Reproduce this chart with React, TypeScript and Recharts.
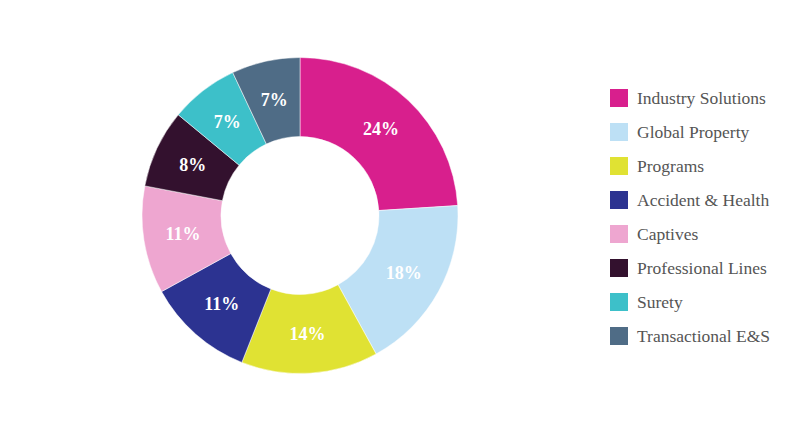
import React from 'react';
import { PieChart, Pie, Cell, Legend } from 'recharts';

const categories = [
  'Industry Solutions',
  'Global Property',
  'Programs',
  'Accident & Health',
  'Captives',
  'Professional Lines',
  'Surety',
  'Transactional E&S',
];
const shares = [24, 18, 14, 11, 11, 8, 7, 7];
const COLORS = ['#d81f8d', '#bde0f5', '#e0e233', '#2c3391', '#eea6d0', '#33112e', '#3dc0c9', '#4f6c86'];

const data = categories.map((name, i) => ({ name, value: shares[i] }));

const FONT = '"Liberation Serif", "Times New Roman", serif';
const RAD = Math.PI / 180;

const renderLabel = (props: any) => {
  const { cx, cy, midAngle, innerRadius, outerRadius, value } = props;
  const r = (innerRadius + outerRadius) / 2;
  const x = cx + r * Math.cos(-midAngle * RAD);
  const y = cy + r * Math.sin(-midAngle * RAD);
  return (
    <text x={x} y={y} fill="#fff" textAnchor="middle" dominantBaseline="central"
      fontFamily={FONT} fontWeight="bold" fontSize={18}>
      {`${value}%`}
    </text>
  );
};

const renderLegend = () => (
  <div style={{ fontFamily: FONT }}>
    {categories.map((name, i) => (
      <div key={name} style={{ display: 'flex', alignItems: 'center', height: 34 }}>
        <div style={{ width: 18, height: 18, background: COLORS[i], marginRight: 9 }} />
        <span style={{ fontSize: 17.5, color: '#555' }}>{name}</span>
      </div>
    ))}
  </div>
);

export default function App() {
  return (
    <div style={{ position: 'absolute', left: 0, top: 0, background: '#fff' }}>
      <PieChart width={800} height={431} margin={{ top: 0, right: 0, bottom: 0, left: 0 }}>
        <Pie
          data={data}
          dataKey="value"
          nameKey="name"
          cx={300}
          cy={215.5}
          innerRadius={79}
          outerRadius={158}
          startAngle={90}
          endAngle={-270}
          stroke="#fff"
          strokeWidth={0.5}
          label={renderLabel}
          labelLine={false}
          isAnimationActive={false}
        >
          {data.map((d, i) => (
            <Cell key={d.name} fill={COLORS[i]} />
          ))}
        </Pie>
        <Legend content={renderLegend} wrapperStyle={{ position: 'absolute', left: 610, top: 81, width: 190 }} />
      </PieChart>
    </div>
  );
}
